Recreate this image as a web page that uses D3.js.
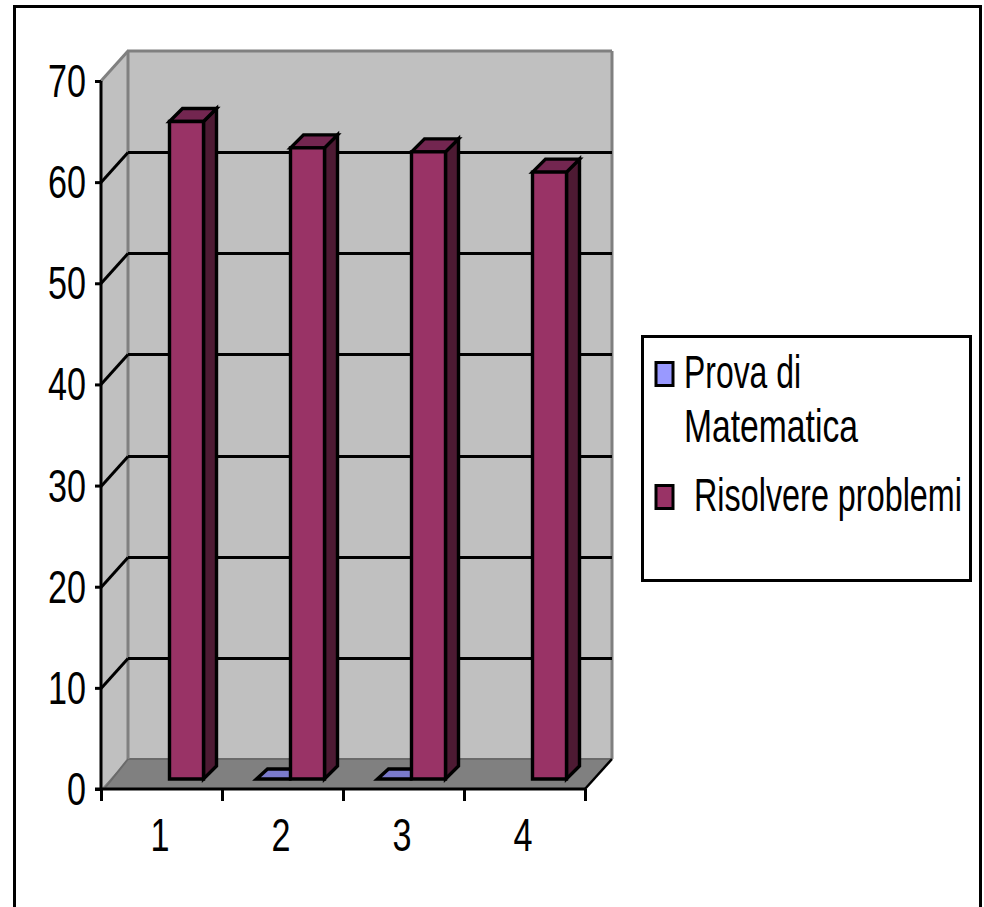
<!DOCTYPE html>
<html><head><meta charset="utf-8">
<script src="https://cdn.jsdelivr.net/npm/d3@7/dist/d3.min.js"></script>
<style>html,body{margin:0;padding:0;background:#fff}svg{display:block}text{font-family:"Liberation Sans",Arial,sans-serif;fill:#000}</style>
</head><body><svg id="c" width="984" height="907"></svg>
<script>
const categories = ["1","2","3","4"];
const seriesNames = ["Prova di Matematica","Risolvere problemi"];
const provaValues = [null,0,0,null];
const risolvereValues = [65,62.4,62,60];
const yTicks = [0,10,20,30,40,50,60,70];

const svg = d3.select("#c");
const L=101,R=585,B=789,T=81,DX=27,DY=30,BD=13,BO=10,BXO=8;
const y = d3.scaleLinear().domain([0,70]).range([B,T]);
const xEdge = d3.scaleLinear().domain([0,4]).range([L,R]);
const xBand = d3.scaleBand().domain(categories).range([L,R]);
const xGroup = d3.scaleBand().domain(seriesNames).range([0,68]);
const groupOff = (xBand.bandwidth()-68)/2 + BXO;
const FS = 46;
const poly = (pts,fill,stroke,sw)=>svg.append("polygon").attr("points",pts.map(p=>p.join(",")).join(" "))
  .attr("fill",fill).attr("stroke",stroke||"none").attr("stroke-width",sw||0).attr("stroke-linejoin","miter");
const line = (x1,y1,x2,y2,c,w)=>svg.append("line").attr("x1",x1).attr("y1",y1).attr("x2",x2).attr("y2",y2).attr("stroke",c).attr("stroke-width",w);
// horizontally condense a text to the width it has in the picture
function fit(sel,width,px,py,anchor){
  sel.attr("font-size",FS).attr("x",0).attr("y",0).attr("dy",null).attr("text-anchor",anchor||"start");
  const n=sel.node().getComputedTextLength();
  sel.attr("transform",`translate(${px},${py}) scale(${width/n},1)`);
}

// outer frame (open at the bottom)
svg.append("path").attr("d","M14.5,907V6.5H980.5V907").attr("fill","none").attr("stroke","#000").attr("stroke-width",3);

// walls and floor
poly([[L+DX,y(70)-DY],[R+DX,y(70)-DY],[R+DX,y(0)-DY],[L+DX,y(0)-DY]],"#c0c0c0");
poly([[L,y(70)],[L+DX,y(70)-DY],[L+DX,y(0)-DY],[L,y(0)]],"#c0c0c0");
poly([[L,B],[L+DX,B-DY],[R+DX,B-DY],[R,B]],"#808080");
line(L+DX,B-DY,R+DX,B-DY,"#6a6a6a",2);
line(L+DX,y(70)-DY,L+DX,B-DY,"#808080",3);
line(L+DX-1,y(70)-DY,R+DX,y(70)-DY,"#808080",3);
line(R+DX,y(70)-DY,R+DX,B-DY,"#808080",3);
line(L,y(70),L+DX,y(70)-DY,"#808080",3);
line(L+4,B-1,L+DX,B-DY,"#6a6a6a",2);
line(R,B,R+DX,B-DY,"#000",2.5);

// gridlines
yTicks.filter(v=>v>0&&v<70).forEach(v=>{
  const gy=Math.round(y(v))+0.5;
  line(L+DX,gy-DY,R+DX,gy-DY,"#000",3);
  line(L,gy,L+DX,gy-DY,"#000",3);
});

// bars
function bar(name,cat,v,front,side,top){
  if(v===null) return;
  const x0=xBand(cat)+groupOff+xGroup(name), x1=x0+xGroup.bandwidth();
  const y1=y(0)-BO, y0=y(v)-BO;
  const sw=3.4;
  if(v>0){
    poly([[x1,y0],[x1+BD,y0-BD],[x1+BD,y1-BD],[x1,y1]],side,"#000",sw);
    poly([[x0,y0],[x0+BD,y0-BD],[x1+BD,y0-BD],[x1,y0]],top,"#000",sw);
    poly([[x0,y0],[x1,y0],[x1,y1],[x0,y1]],front,"#000",sw);
  } else {
    poly([[x0,y1],[x0+BD-2,y1-BD+3],[x1+BD,y1-BD+3],[x1,y1]],top,"#000",sw);
  }
}
categories.forEach((c,i)=>bar(seriesNames[0],c,provaValues[i],"#9999ff","#4d4d80","#7a7acc"));
categories.forEach((c,i)=>bar(seriesNames[1],c,risolvereValues[i],"#993366","#4d1a33","#732650"));

// axes
const yAxis = svg.append("g").attr("transform",`translate(${L},0)`)
  .call(d3.axisLeft(y).tickValues(yTicks).tickSize(6));
const xAxis = svg.append("g").attr("transform",`translate(0,${B})`)
  .call(d3.axisBottom(xEdge).tickValues([0,1,2,3,4]).tickSize(12).tickFormat(""));
const xLabels = svg.append("g").attr("transform",`translate(-1.5,${B})`)
  .call(d3.axisBottom(xBand).tickSize(0));
xLabels.select(".domain").remove();
[yAxis,xAxis].forEach(g=>{
  g.select(".domain").attr("stroke","#000").attr("stroke-width",3);
  g.selectAll(".tick line").attr("stroke","#000").attr("stroke-width",3);
});
yAxis.select(".domain").attr("d",`M0,${T}V${B}`);
xAxis.select(".domain").attr("d",`M${L-6},0H${R}`);
yAxis.selectAll("text").each(function(d){ fit(d3.select(this), d===0?19:38, -15, 15.5, "end"); });
xLabels.selectAll("text").each(function(){ fit(d3.select(this), 19, 0, 62, "middle"); });

// legend
svg.append("rect").attr("x",642.5).attr("y",336.5).attr("width",328).attr("height",244).attr("fill","#fff").attr("stroke","#000").attr("stroke-width",3);
const swatches=[["#9999ff",362.5],["#993366",485.5]];
swatches.forEach(([f,yy])=>svg.append("rect").attr("x",656).attr("y",yy).attr("width",17).attr("height",23).attr("fill",f).attr("stroke","#000").attr("stroke-width",3));
const legendText=[["Prova di",684,388,117],["Matematica",684,442,174],["Risolvere problemi",694,511,268]];
legendText.forEach(([t,x,yy,w])=>fit(svg.append("text").text(t),w,x,yy));
</script></body></html>
